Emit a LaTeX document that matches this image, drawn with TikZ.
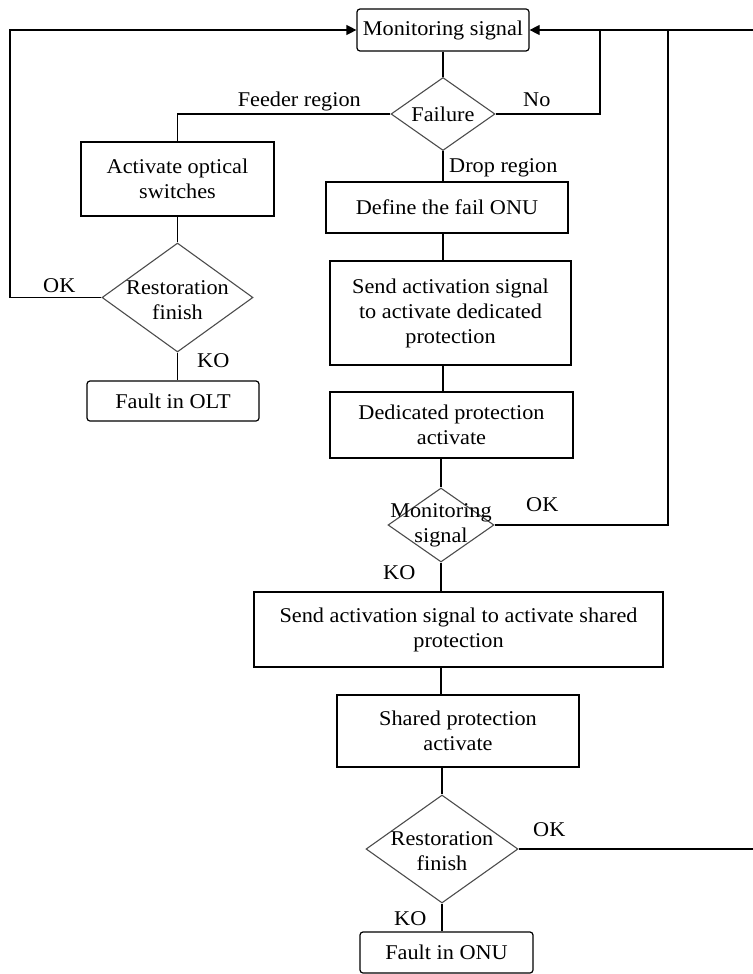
\documentclass[tikz,border=0pt]{standalone}
\usepackage{fontspec}
\setmainfont{Liberation Serif}[FakeStretch=1.06]
\usetikzlibrary{shapes.geometric,arrows.meta}
\begin{document}
\begin{tikzpicture}[x=1pt,y=-1pt,
  every node/.style={font=\fontsize{21}{25}\selectfont, text=black},
  box/.style={draw=black, line width=1.2pt, align=center, inner sep=0pt},
  rbox/.style={box, rounded corners=3pt},
  dec/.style={draw=black!70, line width=1.1pt, shape=diamond, inner sep=0pt},
  txt/.style={inner sep=0pt, align=center},
  line/.style={line width=1.2pt},
  arr/.style={line, -{Triangle[length=10pt,width=10pt]}}]
\useasboundingbox (0,0) rectangle (752,974);
% nodes
\node[rbox, minimum width=172pt, minimum height=42pt] (ms) at (443,30) {Monitoring signal};
\node[dec, minimum width=104pt, minimum height=73pt, label={[txt]center:Failure}] (fail) at (443,114) {};
\node[box, minimum width=193pt, minimum height=74pt] (act) at (177.5,179) {Activate optical\\switches};
\node[dec, minimum width=151pt, minimum height=109pt, label={[txt,yshift=-3pt]center:Restoration\\finish}] (rf1) at (177.5,297.5) {};
\node[rbox, minimum width=172pt, minimum height=40pt] (folt) at (173,401) {Fault in OLT};
\node[box, minimum width=242pt, minimum height=51pt] (def) at (447,207.5) {Define the fail ONU};
\node[box, minimum width=241pt, minimum height=104pt] (send) at (450.5,313) {Send activation signal\\to activate dedicated\\protection};
\node[box, minimum width=243pt, minimum height=66pt] (ded) at (451.5,425) {Dedicated protection\\activate};
\node[dec, minimum width=106pt, minimum height=74pt, label={[txt]center:Monitoring\\signal}] (md) at (441,525) {};
\node[box, minimum width=409pt, minimum height=75pt] (ss) at (458.5,629.5) {Send activation signal to activate shared\\protection};
\node[box, minimum width=242pt, minimum height=72pt] (sh) at (458,731) {Shared protection\\activate};
\node[dec, minimum width=152pt, minimum height=108pt, label={[txt,yshift=-2pt]center:Restoration\\finish}] (rf2) at (442,849) {};
\node[rbox, minimum width=173pt, minimum height=41pt] (fonu) at (446.5,952.5) {Fault in ONU};
% junction coordinates
\coordinate (j1) at (600,30);
\coordinate (j2) at (668,30);
\coordinate (lc) at (10,297.5);
\coordinate (rc) at (753.5,849);
% connectors
\draw[line] (ms) -- (fail);
\draw[line] (fail.west) -| (act.north);
\draw[line] (fail.east) -| (j1);
\draw[line] (fail.south) -- (fail.south |- def.north);
\draw[line] (def.south -| fail) -- (send.north -| fail);
\draw[line] (send.south -| fail) -- (ded.north -| fail);
\draw[line] (ded.south -| md) -- (md.north);
\draw[line] (md.east) -| (j2);
\draw[line] (md.south) -- (md.south |- ss.north);
\draw[line] (ss.south -| md) -- (sh.north -| md);
\draw[line] (sh.south -| rf2) -- (rf2.north);
\draw[line] (rf2.south) -- (rf2.south |- fonu.north);
\draw[arr] (rf2.east) -- (rc) |- (ms.east);
\draw[line] (act.south) -- (rf1.north);
\draw[line] (rf1.south) -- (rf1.south |- folt.north);
\draw[arr] (rf1.west) -- (lc) |- (ms.west);
% labels
\node[txt, anchor=base east] (lfeed) at (361,106) {Feeder region};
\node[txt, anchor=base west] (lno) at (523,106) {No};
\node[txt, anchor=base west] (ldrop) at (449,172) {Drop region};
\node[txt, anchor=base west] (lok1) at (43,292) {OK};
\node[txt, anchor=base west] (lko1) at (197,367) {KO};
\node[txt, anchor=base west] (lok2) at (526,511) {OK};
\node[txt, anchor=base west] (lko2) at (383,579) {KO};
\node[txt, anchor=base west] (lok3) at (533,836) {OK};
\node[txt, anchor=base west] (lko3) at (394,925) {KO};
\end{tikzpicture}
\end{document}
